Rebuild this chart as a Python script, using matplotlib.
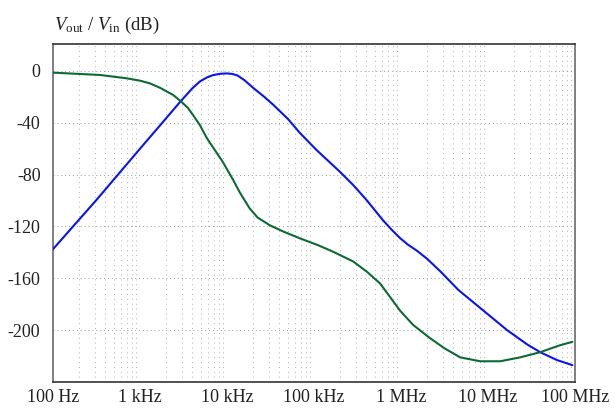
import matplotlib
matplotlib.use("Agg")
import matplotlib.pyplot as plt
from matplotlib.ticker import FixedLocator, NullFormatter

plt.rcParams['font.family'] = ['Liberation Serif', 'DejaVu Serif']
plt.rcParams['mathtext.fontset'] = 'custom'
plt.rcParams['mathtext.rm'] = 'Liberation Serif'
plt.rcParams['mathtext.it'] = 'Liberation Serif:italic'

# Blue curve (band-pass-like response)
blue_freq = [100, 316, 1000, 1700, 2880, 3980, 4900, 5890, 6920, 8320, 10000,
             11500, 13200, 15800, 19950, 26300, 33900, 50100, 69200, 107000,
             200000, 282000, 407000, 617000, 794000, 977000, 1200000, 1510000,
             2000000, 2820000, 4570000, 8710000, 16600000, 28200000, 39800000,
             61700000, 93300000]
blue_db = [-137.5, -99.5, -60, -42, -24, -13.5, -8, -5, -3.2, -2.2, -1.9,
           -2.3, -3.5, -7, -13, -19.5, -26, -37, -48, -61,
           -78, -88, -100, -115, -123, -129, -134, -138.5,
           -145, -154.5, -169, -184.5, -200, -211, -217,
           -223, -227]

# Green curve (low-pass-like response)
green_freq = [100, 347, 708, 1000, 1290, 1700, 2400, 3020, 3550, 4070, 4900,
              5890, 7240, 8910, 11750, 14100, 18200, 22400, 30900, 44700, 69200,
              112000, 166000, 282000, 407000, 575000, 741000, 977000, 1380000,
              2140000, 3160000, 4790000, 8130000, 13800000, 23400000, 39800000,
              67600000, 93300000]
green_db = [-1.3, -3.1, -5.7, -7.5, -9.5, -13, -18.5, -24, -28.5, -34, -42,
            -52, -61, -70, -84, -94, -106, -113, -119, -124, -129.2,
            -134.5, -139.5, -147, -155, -164, -174, -185, -196,
            -206, -214, -221, -224, -224, -221, -217,
            -211.6, -209]

x_ticks = [1e2, 1e3, 1e4, 1e5, 1e6, 1e7, 1e8]
x_labels = ['100 Hz', '1 kHz', '10 kHz', '100 kHz', '1 MHz', '10 MHz', '100 MHz']
y_ticks = [0, -40, -80, -120, -160, -200]
y_labels = ['0', '-40', '-80', '-120', '-160', '-200']

fig = plt.figure(figsize=(6.15, 4.08), dpi=100)
ax = fig.add_axes([53/615, 26/408, (575-53)/615, (382-44)/408])

ax.plot(blue_freq, blue_db, color='#0a14f0', lw=1.5, zorder=3,
        solid_joinstyle='round', solid_capstyle='round')
ax.plot(green_freq, green_db, color='#0b6a35', lw=1.5, zorder=3,
        solid_joinstyle='round', solid_capstyle='round')

ax.set_xscale('log')
ax.set_xlim(1e2, 1e8)
ax.set_ylim(-240, 20.8)

ax.xaxis.set_major_locator(FixedLocator(x_ticks))
ax.set_xticklabels(x_labels)
minors = [m * d for d in [1e2, 1e3, 1e4, 1e5, 1e6, 1e7] for m in range(2, 10)]
ax.xaxis.set_minor_locator(FixedLocator(minors))
ax.xaxis.set_minor_formatter(NullFormatter())
ax.set_yticks(y_ticks)
ax.set_yticklabels(y_labels)

ax.tick_params(axis='both', which='both', length=0, labelsize=13, colors='#222222')
ax.tick_params(axis='x', pad=5)
ax.tick_params(axis='y', pad=9)

ax.grid(True, axis='x', which='minor', color='#b0b0b0', lw=0.7, linestyle=(0, (1, 4)))
ax.grid(True, axis='y', which='major', color='#999999', lw=0.7, linestyle=(0, (1, 3)))

for s in ['left', 'right']:
    ax.spines[s].set_color('#7f7f7f')
    ax.spines[s].set_linewidth(1.4)
for s in ['top', 'bottom']:
    ax.spines[s].set_color('#333333')
    ax.spines[s].set_linewidth(1.2)

fig.text(54/615, 1 - 30/408, r'$V_{\rm out}$ / $V_{\rm in}$ (dB)', fontsize=13.5,
         color='#222222', ha='left', va='baseline')

fig.savefig('out.png', dpi=100)
